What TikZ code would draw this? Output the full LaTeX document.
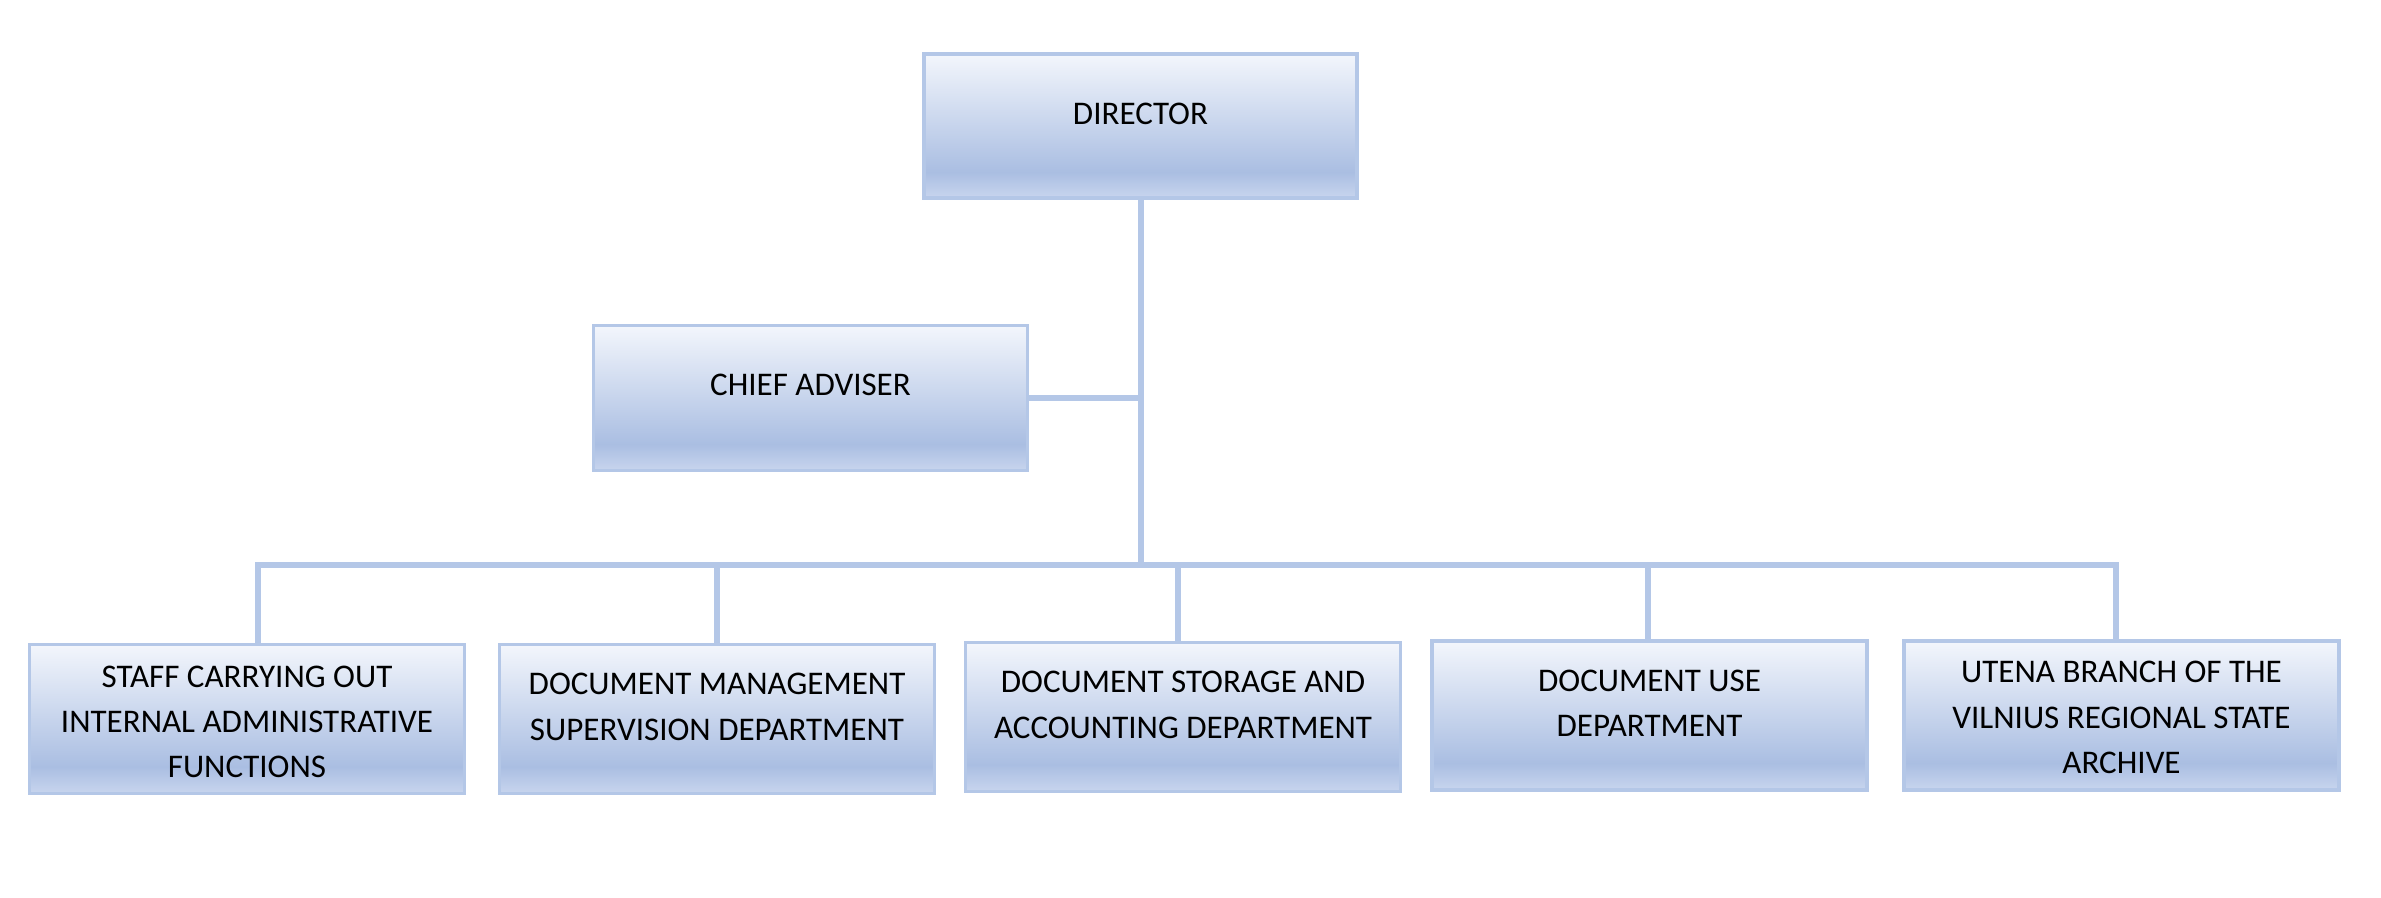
\documentclass[tikz,border=0pt]{standalone}
\usepackage{fontspec}
\setmainfont{Carlito}
\usepackage{tikz}

\definecolor{linkblue}{RGB}{180,199,231}
\definecolor{shadetop}{RGB}{243,246,252}
\definecolor{shadedark}{RGB}{170,190,226}
\definecolor{shadeedge}{RGB}{200,213,238}

\pgfdeclareverticalshading{orgshade}{100bp}{color(0bp)=(shadeedge); color(25bp)=(shadeedge); color(34bp)=(shadedark); color(75bp)=(shadetop); color(100bp)=(shadetop)}

\tikzset{
	orgbox/.style={draw=linkblue, line width=0.9pt, shading=orgshade, minimum width=4.35cm, minimum height=1.49cm, inner sep=0pt},
	orgtext/.style={align=center, font=\fontsize{9.4}{12.9}\selectfont, inner sep=0pt},
	link/.style={draw=linkblue, line width=1.7pt}
}

\begin{document}
\begin{tikzpicture}

	\fill[white] (0,0) rectangle (23.81,-8.97);
	\useasboundingbox (0,0) rectangle (23.81,-8.97);

	% boxes
	\node[orgbox, minimum width=4.33cm, minimum height=1.44cm] (director) at (11.405,-1.26) {};
	\node[orgbox, minimum width=4.34cm, minimum height=1.45cm] (adviser) at (8.105,-3.98) {};

	\node[orgbox] (staff) at (2.47,-7.19) {};
	\node[orgbox] (supervision) at (7.17,-7.19) {};
	\node[orgbox] (storage) at (11.83,-7.17) {};
	\node[orgbox] (use) at (16.495,-7.155) {};
	\node[orgbox] (utena) at (21.215,-7.155) {};

	% texts
	\node[orgtext] (directortext) at ([yshift=0.12cm]director.center) {DIRECTOR};
	\node[orgtext] (advisertext) at ([yshift=0.13cm]adviser.center) {CHIEF ADVISER};
	\node[orgtext] (stafftext) at ([yshift=-0.03cm]staff.center) {STAFF CARRYING OUT\\INTERNAL ADMINISTRATIVE\\FUNCTIONS};
	\node[orgtext] (supervisiontext) at ([yshift=0.12cm]supervision.center) {DOCUMENT MANAGEMENT\\SUPERVISION DEPARTMENT};
	\node[orgtext] (storagetext) at ([yshift=0.12cm]storage.center) {DOCUMENT STORAGE AND\\ACCOUNTING DEPARTMENT};
	\node[orgtext] (usetext) at ([yshift=0.12cm]use.center) {DOCUMENT USE\\DEPARTMENT};
	\node[orgtext] (utenatext) at ([yshift=-0.02cm]utena.center) {UTENA BRANCH OF THE\\VILNIUS REGIONAL STATE\\ARCHIVE};

	% connectors
	\coordinate (bus) at (0,-5.65);
	\draw[link] (director.south) -- (director.south |- bus);
	\draw[link] (adviser.east) -- (adviser.east -| director.south);
	\draw[link] ([xshift=0.11cm]staff.north) |- ([xshift=-0.06cm]utena.north |- bus) -- ([xshift=-0.06cm]utena.north);
	\draw[link] (supervision.north) -- (supervision.north |- bus);
	\draw[link] ([xshift=-0.05cm]storage.north) -- ([xshift=-0.05cm]storage.north |- bus);
	\draw[link] ([xshift=-0.02cm]use.north) -- ([xshift=-0.02cm]use.north |- bus);

\end{tikzpicture}
\end{document}
